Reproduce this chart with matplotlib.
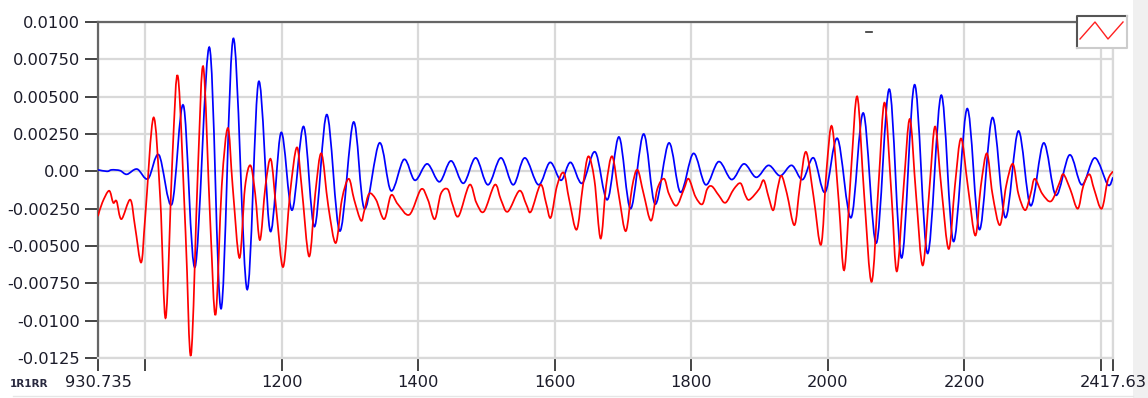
import matplotlib
matplotlib.use("Agg")
import matplotlib.pyplot as plt
from matplotlib.lines import Line2D
from matplotlib.patches import Rectangle, PathPatch
from matplotlib.path import Path

# ---- signal data (time, amplitude) ----
blue_x = [930.735, 944, 951, 963, 973, 988, 1004, 1020, 1039, 1056, 1073, 1094, 1111,
          1129, 1149, 1166, 1183, 1199, 1215, 1232, 1248, 1266, 1285, 1305, 1321, 1343,
          1360, 1379, 1395, 1413, 1431, 1448, 1466, 1484, 1502, 1521, 1539, 1556, 1576,
          1593, 1609, 1623, 1640, 1659, 1677, 1694, 1711, 1730, 1747, 1767, 1784, 1803,
          1821, 1840, 1859, 1877, 1895, 1913, 1930, 1947, 1963, 1979, 1996, 2014, 2034,
          2052, 2071, 2090, 2108, 2127, 2146, 2166, 2184, 2204, 2222, 2241, 2260, 2279,
          2297, 2316, 2334, 2354, 2372, 2391, 2410, 2417.63]
blue_y = [0.0001, 0.0, 0.0001, 0.00005, -0.0002, 0.00015, -0.0005, 0.0011, -0.0022, 0.0044,
          -0.0064, 0.0083, -0.0092, 0.0089, -0.0079, 0.0060, -0.0040, 0.0026, -0.0026, 0.0030,
          -0.0037, 0.0038, -0.0040, 0.0033, -0.0025, 0.0019, -0.0013, 0.0008, -0.0006, 0.0005,
          -0.0007, 0.0007, -0.0008, 0.0009, -0.0009, 0.0009, -0.0009, 0.0009, -0.0009, 0.0006,
          -0.0006, 0.0006, -0.0008, 0.0013, -0.0019, 0.0023, -0.0025, 0.0025, -0.0022, 0.0019,
          -0.0014, 0.0012, -0.0009, 0.00065, -0.00055, 0.0005, -0.0004, 0.0004, -0.0003, 0.0004,
          -0.00055, 0.0009, -0.0014, 0.0022, -0.0031, 0.0039, -0.0048, 0.0055, -0.0058, 0.0058,
          -0.0055, 0.0051, -0.0047, 0.0042, -0.0039, 0.0036, -0.0031, 0.0027, -0.0023, 0.0019,
          -0.0016, 0.0011, -0.0009, 0.0009, -0.0009, -0.0004]

red_x = [930.735, 937, 947, 953, 958, 965, 978, 985, 994, 1000, 1012, 1022, 1030, 1040,
         1048, 1059, 1067, 1077, 1085, 1095, 1103, 1112, 1121, 1128, 1138, 1146, 1154,
         1161, 1168, 1176, 1184, 1192, 1202, 1212, 1222, 1229, 1240, 1249, 1258, 1268,
         1279, 1288, 1298, 1306, 1316, 1321, 1328, 1338, 1350, 1360, 1370, 1387, 1404,
         1414, 1424, 1433, 1443, 1450, 1459, 1475, 1485, 1496, 1512, 1521, 1531, 1548,
         1558, 1565, 1579, 1587, 1594, 1603, 1613, 1621, 1632, 1641, 1649, 1658, 1667,
         1675, 1684, 1694, 1704, 1713, 1721, 1730, 1741, 1750, 1760, 1767, 1778, 1789,
         1796, 1806, 1816, 1823, 1830, 1840, 1850, 1862, 1872, 1879, 1885, 1899, 1906,
         1913, 1920, 1926, 1932, 1940, 1951, 1959, 1968, 1979, 1990, 1998, 2006, 2016,
         2024, 2034, 2043, 2053, 2064, 2074, 2083, 2093, 2101, 2111, 2120, 2129, 2139,
         2149, 2157, 2166, 2177, 2186, 2195, 2205, 2216, 2224, 2233, 2241, 2252, 2261,
         2271, 2279, 2289, 2297, 2303, 2314, 2327, 2339, 2345, 2355, 2366, 2374, 2383,
         2390, 2401, 2410, 2417.63]
red_y = [-0.0030, -0.0021, -0.0013, -0.0021, -0.0020, -0.0032, -0.0019, -0.0037, -0.0061,
         -0.0030, 0.0036, -0.0019, -0.0098, 0.0012, 0.0063, -0.0041, -0.0123, 0.0, 0.0070,
         -0.0032, -0.0096, -0.0010, 0.0029, -0.0010, -0.0058, -0.0011, 0.0004, -0.0015,
         -0.0046, -0.0010, 0.0008, -0.0026, -0.0064, -0.0015, 0.0016, -0.0010, -0.0057,
         -0.0015, 0.0012, -0.0023, -0.0048, -0.0019, -0.0005, -0.0019, -0.0033, -0.0026,
         -0.0015, -0.0019, -0.0032, -0.0016, -0.0022, -0.0029, -0.0012, -0.0019, -0.0032,
         -0.0015, -0.0012, -0.0022, -0.0030, -0.0009, -0.0021, -0.0027, -0.0009, -0.0019,
         -0.0027, -0.0013, -0.0022, -0.0027, -0.0009, -0.0021, -0.0031, -0.0010, -0.0001,
         -0.0019, -0.0039, -0.0010, 0.0010, -0.0006, -0.0045, -0.0010, 0.0010, -0.0017,
         -0.0040, -0.0011, 0.0001, -0.0015, -0.0033, -0.0012, -0.0005, -0.0015, -0.0023,
         -0.0012, -0.0005, -0.0017, -0.0022, -0.0012, -0.0010, -0.0016, -0.0021, -0.0012,
         -0.0008, -0.0016, -0.0019, -0.0012, -0.0006, -0.0017, -0.0026, -0.0012, -0.0003,
         -0.0015, -0.0036, -0.0010, 0.0013, -0.0017, -0.0049, 0.0001, 0.0030, -0.0021,
         -0.0066, 0.0001, 0.0050, -0.0015, -0.0074, -0.0010, 0.0046, -0.0015, -0.0067,
         -0.0010, 0.0035, -0.0015, -0.0063, -0.0010, 0.0030, -0.0010, -0.0052, -0.0010,
         0.0022, -0.0010, -0.0043, -0.0010, 0.0012, -0.0015, -0.0036, -0.0010, 0.0005,
         -0.0015, -0.0026, -0.0015, -0.0005, -0.0015, -0.0020, -0.0008, -0.0002, -0.0012,
         -0.0025, -0.0010, -0.0002, -0.0012, -0.0025, -0.0006, 0.0]

x_ticks = [930.735, 1000, 1200, 1400, 1600, 1800, 2000, 2200, 2400, 2417.63]
x_tick_labels = ["930.735", "", "1200", "1400", "1600", "1800", "2000", "2200", "", "2417.63"]
y_ticks = [0.0100, 0.0075, 0.0050, 0.0025, 0.0, -0.0025, -0.0050, -0.0075, -0.0100, -0.0125]
y_tick_labels = ["0.0100", "0.00750", "0.00500", "0.00250", "0.00",
                 "-0.00250", "-0.00500", "-0.00750", "-0.0100", "-0.0125"]
axis_name = "1R1RR"


def smooth_trace(xs, ys):
    """Catmull-Rom style Bezier path running through every sample."""
    pts = list(zip(xs, ys))
    verts = [pts[0]]
    codes = [Path.MOVETO]
    n = len(pts)
    for i in range(n - 1):
        p0 = pts[i - 1] if i > 0 else pts[i]
        p1 = pts[i]
        p2 = pts[i + 1]
        p3 = pts[i + 2] if i + 2 < n else p2
        c1 = (p1[0] + (p2[0] - p0[0]) / 6, p1[1] + (p2[1] - p0[1]) / 6)
        c2 = (p2[0] - (p3[0] - p1[0]) / 6, p2[1] - (p3[1] - p1[1]) / 6)
        verts += [c1, c2, p2]
        codes += [Path.CURVE4] * 3
    return Path(verts, codes)


# ---- figure in pixel units ----
W, H = 1148, 398
fig = plt.figure(figsize=(W / 100, H / 100), dpi=100)
fig.patch.set_facecolor("white")


def fx(px):
    return px / W


def fy(py):
    return 1 - py / H


L, R, T, B = 98, 1113, 22, 358
ax = fig.add_axes([fx(L), fy(B), fx(R) - fx(L), fy(T) - fy(B)])

ax.add_patch(PathPatch(smooth_trace(blue_x, blue_y), facecolor="none",
                       edgecolor="#0000ff", lw=1.25, zorder=3))
ax.add_patch(PathPatch(smooth_trace(red_x, red_y), facecolor="none",
                       edgecolor="#ff0000", lw=1.25, zorder=4))

ax.set_xlim(x_ticks[0], x_ticks[-1])
ax.set_ylim(-0.0125, 0.0100)
ax.set_xticks(x_ticks)
ax.set_xticklabels(x_tick_labels)
ax.set_yticks(y_ticks)
ax.set_yticklabels(y_tick_labels)

ax.grid(True, color="#d9d9d9", lw=1.6)
ax.set_axisbelow(True)

text_color = "#1c1c2a"
ax.tick_params(axis="y", length=9.4, width=1.4, color="#444444",
               labelsize=11.7, labelcolor=text_color, pad=3.4)
ax.tick_params(axis="x", length=9.0, width=1.4, color="#444444",
               labelsize=11.7, labelcolor=text_color, pad=3.0)

for side in ("left", "top"):
    ax.spines[side].set_color("#666666")
    ax.spines[side].set_linewidth(1.6)
for side in ("right", "bottom"):
    ax.spines[side].set_color("#d9d9d9")
    ax.spines[side].set_linewidth(1.6)

# axis name at the lower left
fig.text(fx(10), fy(384), axis_name, fontsize=7.5, fontweight="bold",
         color="#2a2a40", ha="left", va="center")

# scroll strip on the right edge
fig.add_artist(Rectangle((fx(1133), 0), 1 - fx(1133), 1, transform=fig.transFigure,
                         facecolor="#f0f0f0", edgecolor="none", zorder=0))
# faint rule along the bottom
fig.add_artist(Line2D([fx(13), fx(1133)], [fy(396), fy(396)], transform=fig.transFigure,
                      color="#e6e6e6", lw=1))

# small marker near the top
fig.add_artist(Line2D([fx(866), fx(872)], [fy(32), fy(32)], transform=fig.transFigure,
                      color="#333333", lw=1.2))

# plot-type button in the top right corner
bx0, bx1, by0, by1 = 1077, 1127, 16, 48
fig.add_artist(Rectangle((fx(bx0), fy(by1)), fx(bx1) - fx(bx0), fy(by0) - fy(by1),
                         transform=fig.transFigure, facecolor="white",
                         edgecolor="none", zorder=5))
fig.add_artist(Line2D([fx(bx0), fx(bx0), fx(bx1)], [fy(by1), fy(by0), fy(by0)],
                      transform=fig.transFigure, color="#555555", lw=1.5, zorder=6))
fig.add_artist(Line2D([fx(bx0), fx(bx1), fx(bx1)], [fy(by1), fy(by1), fy(by0)],
                      transform=fig.transFigure, color="#cccccc", lw=1.5, zorder=6))
fig.add_artist(Line2D([fx(1080), fx(1095), fx(1108), fx(1123)],
                      [fy(39), fy(22), fy(39), fy(22)],
                      transform=fig.transFigure, color="#ff2020", lw=1.0, zorder=7))

fig.savefig("out.png", dpi=100, facecolor="white")
